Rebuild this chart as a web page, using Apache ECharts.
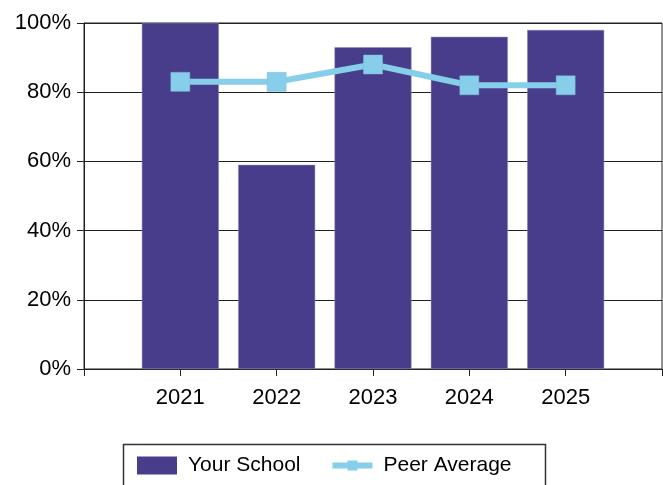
<!DOCTYPE html>
<html>
<head>
<meta charset="utf-8">
<script src="https://cdn.jsdelivr.net/npm/echarts@6/dist/echarts.min.js"></script>
<style>
  html, body { margin: 0; padding: 0; background: #fff; }
  #chart { width: 663px; height: 485px; }
</style>
</head>
<body>
<div id="chart"></div>
<script>
  var years = ['2021', '2022', '2023', '2024', '2025']
  var yourSchool = [100, 59, 93, 96, 98]
  var peerAverage = [83, 83, 88, 82, 82]
  var yTicks = [0, 20, 40, 60, 80, 100]

  // empty slot on each side so the years sit on ticks like the original
  var cats = [''].concat(years, [''])
  var pad = function (arr) { return ['-'].concat(arr, ['-']) }

  var chart = echarts.init(document.getElementById('chart'))
  var font = 'Liberation Sans, Arial, sans-serif'

  var option = {
    animation: false,
    backgroundColor: '#fff',
    grid: {
      left: 84,
      right: 1,
      top: 23,
      bottom: 116,
      outerBoundsMode: 'none',
      containLabel: false,
      show: true,
      borderColor: '#222',
      borderWidth: 1
    },
    legend: {
      left: 137,
      top: 455,
      padding: 0,
      itemWidth: 40,
      itemHeight: 18,
      itemGap: 32,
      symbolKeepAspect: true,
      itemStyle: { borderWidth: 0 },
      textStyle: { fontFamily: font, fontSize: 21, color: '#000', padding: [0, 0, 0, 6] },
      data: [
        { name: 'Your School', icon: 'rect' },
        { name: 'Peer Average', icon: 'path://M0,6H15V4H25V6H40V12H25V14H15V12H0Z' }
      ]
    },
    graphic: [{
      type: 'rect',
      left: 121,
      top: 442,
      shape: { width: 422, height: 60 },
      style: { fill: 'none', stroke: '#333', lineWidth: 1.5 },
      z: 0
    }],
    xAxis: {
      type: 'category',
      boundaryGap: false,
      data: cats,
      axisLine: { lineStyle: { color: '#222', width: 1 } },
      axisTick: { show: true, length: 7, inside: false, alignWithLabel: true, lineStyle: { color: '#222' } },
      axisLabel: { fontFamily: font, fontSize: 22, color: '#000', margin: 18, interval: 0 },
      splitLine: { show: false }
    },
    yAxis: {
      type: 'value',
      min: yTicks[0],
      max: yTicks[yTicks.length - 1],
      interval: 20,
      axisLine: { show: true, lineStyle: { color: '#222', width: 1 } },
      axisTick: { show: true, length: 7, lineStyle: { color: '#222' } },
      axisLabel: { fontFamily: font, fontSize: 22, color: '#000', margin: 13, formatter: '{value}%' },
      splitLine: { show: true, lineStyle: { color: '#222', width: 1 } }
    },
    series: [
      {
        name: 'Your School',
        type: 'bar',
        data: pad(yourSchool),
        barWidth: 77,
        itemStyle: { color: '#483D8B', borderColor: '#8f88c0', borderWidth: 0.5 },
        z: 2
      },
      {
        name: 'Peer Average',
        type: 'line',
        data: pad(peerAverage),
        symbol: 'rect',
        symbolSize: 19,
        lineStyle: { color: '#87CEEB', width: 6 },
        itemStyle: { color: '#87CEEB', borderColor: '#7ab8d8', borderWidth: 0.5 },
        z: 3
      }
    ]
  }
  chart.setOption(option)
</script>
</body>
</html>
